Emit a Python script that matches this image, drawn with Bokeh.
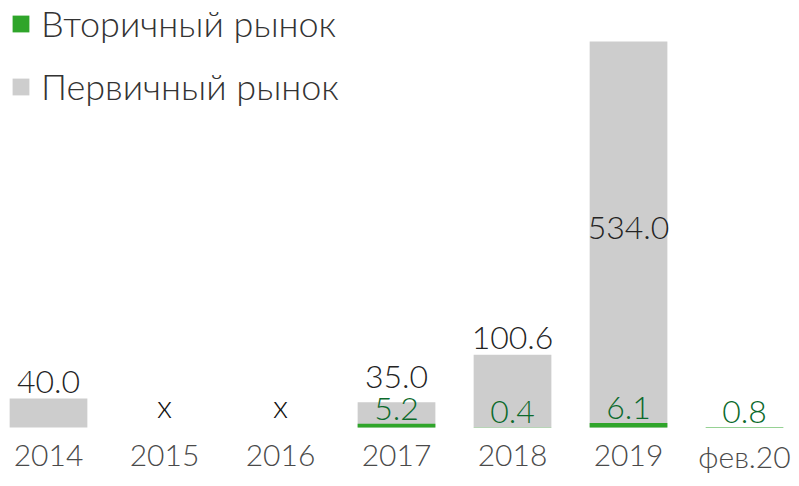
from bokeh.plotting import figure
from bokeh.models import ColumnDataSource, Range1d, Legend, LegendItem
from bokeh.core.properties import value
from bokeh.embed import file_html
from bokeh.resources import INLINE

# ---- data ----
categories = ["2014", "2015", "2016", "2017", "2018", "2019", "фев.20"]
primary = [40.0, None, None, 35.0, 100.6, 534.0, None]      # Первичный рынок
secondary = [None, None, None, 5.2, 0.4, 6.1, 0.8]          # Вторичный рынок
series_names = ["Вторичный рынок", "Первичный рынок"]
missing_mark = "x"

FONT = "Lato Light, Lato"
GRAY = "#cdcdcd"
GREEN = "#2fa52a"
TEXT_DARK = "#242424"
TEXT_GREEN = "#0c6a2c"

W, H = 791, 478
BASE_PX = 427                       # pixel row of the zero line
KY = 386 / 534.0                    # pixels per data unit (vertical)
Y1 = BASE_PX / KY
Y0 = -(H - BASE_PX) / KY
X0, X1 = -0.4138, 6.405
C = 13                               # rendered digit bottom sits C px below the alphabetic anchor
DIGIT_H = 24

p = figure(
    x_range=Range1d(X0, X1), y_range=Range1d(Y0, Y1),
    width=W, height=H,
    output_backend="svg", toolbar_location=None,
    min_border_left=0, min_border_right=0, min_border_top=0, min_border_bottom=0,
)
p.outline_line_color = None
p.xgrid.visible = False
p.ygrid.visible = False
p.xaxis.visible = False
p.yaxis.visible = False

idx = list(range(len(categories)))

# category labels
csrc = ColumnDataSource(dict(x=idx, y=[0] * len(idx), label=categories))
p.text(x="x", y="y", text="label", source=csrc, text_align="center",
       text_baseline="alphabetic", y_offset=41 - C, text_font=value(FONT),
       text_font_size="30px", text_color="#4a4a4a")

# primary bars
pi = [i for i, v in zip(idx, primary) if v is not None]
pv = [v for v in primary if v is not None]
psrc = ColumnDataSource(dict(x=pi, top=pv, label=[f"{v:.1f}" for v in pv]))
r_primary = p.vbar(x="x", top="top", width=0.67, source=psrc,
                   fill_color=GRAY, line_color=None)

# secondary bars
si = [i for i, v in zip(idx, secondary) if v is not None]
sv = [v for v in secondary if v is not None]
ssrc = ColumnDataSource(dict(x=si, top=sv, label=[f"{v:.1f}" for v in sv]))
r_secondary = p.vbar(x="x", top="top", width=0.67, source=ssrc,
                     fill_color=GREEN, line_color=None)

# secondary labels just above the green bars
SEC_GAP = 2
p.text(x="x", y="top", text="label", source=ssrc, text_align="center",
       text_baseline="alphabetic", y_offset=-SEC_GAP - C, text_font=value(FONT),
       text_font_size="32px", text_color=TEXT_GREEN)

# primary labels: above the bar (clear of the green label), or mid-bar for very tall bars
sec_lookup = dict(zip(si, sv))
vmax = max(pv)
ly, loff = [], []
for i, v in zip(pi, pv):
    if v > vmax * 0.6:
        ly.append(v / 2)
        loff.append(DIGIT_H / 2 - C - 6)
    else:
        ly.append(v)
        gap = 4
        bar_top = v * KY
        if i in sec_lookup:
            sec_label_top = sec_lookup[i] * KY + SEC_GAP + DIGIT_H
            if bar_top + gap < sec_label_top + 8:
                gap = sec_label_top + 8 - bar_top
        loff.append(-gap - C)
psrc.data["ly"] = ly
psrc.data["loff"] = loff
p.text(x="x", y="ly", text="label", source=psrc, text_align="center",
       text_baseline="alphabetic", y_offset="loff", text_font=value(FONT),
       text_font_size="32px", text_color=TEXT_DARK)

# missing-data marks
mi = [i for i, a, b in zip(idx, primary, secondary) if a is None and b is None]
msrc = ColumnDataSource(dict(x=mi, y=[0] * len(mi), label=[missing_mark] * len(mi)))
p.text(x="x", y="y", text="label", source=msrc, text_align="center",
       text_baseline="alphabetic", y_offset=-9 - C, text_font=value(FONT),
       text_font_size="32px", text_color="#111111")

legend = Legend(
    items=[LegendItem(label=series_names[0], renderers=[r_secondary]),
           LegendItem(label=series_names[1], renderers=[r_primary])],
    location=(10, 370), orientation="vertical",
    glyph_width=21, glyph_height=21, label_standoff=10,
    label_text_font=FONT, label_text_font_size="36px", label_text_color="#333333",
    spacing=19, padding=4, margin=0,
    border_line_color=None, background_fill_alpha=0,
)
p.add_layout(legend)

open("out.html", "w").write(file_html(p, INLINE))
